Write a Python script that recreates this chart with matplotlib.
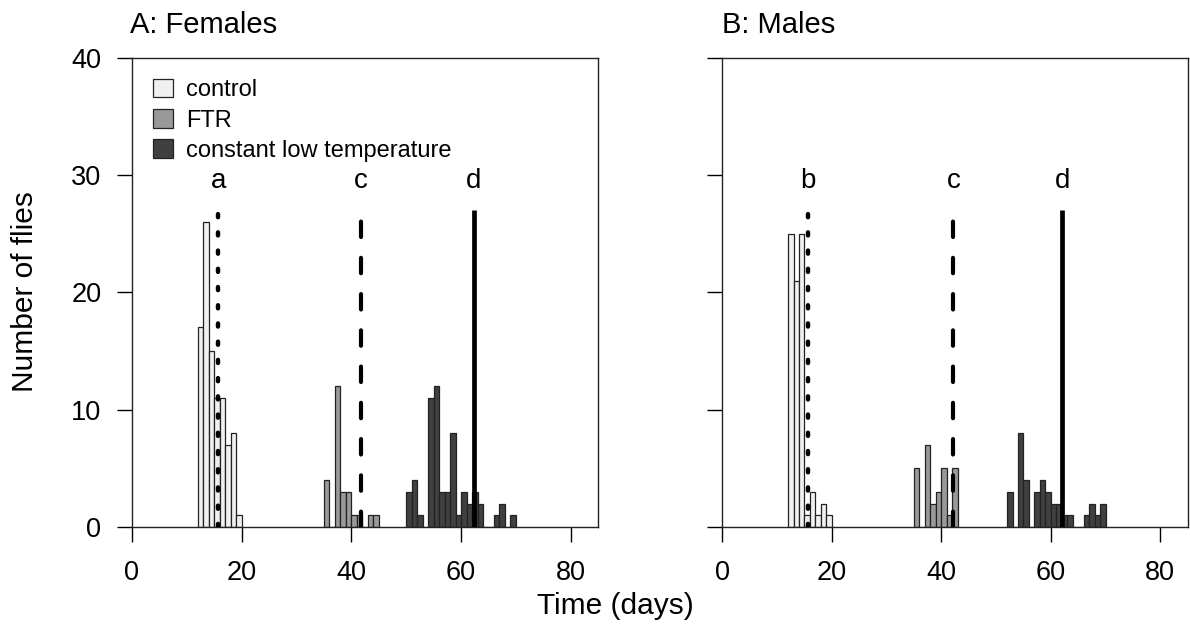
import matplotlib
matplotlib.use("Agg")
from matplotlib import pyplot as plt
from matplotlib.patches import Patch

plt.rcParams['font.family'] = ['Liberation Sans', 'DejaVu Sans']

# histogram bins (left edge, day) and counts
fem_ctrl_days = [12, 13, 14, 15, 16, 17, 18, 19]
fem_ctrl_n = [17, 26, 15, 11, 11, 7, 8, 1]
fem_ftr_days = [35, 36, 37, 38, 39, 40, 41, 42, 43, 44]
fem_ftr_n = [4, 0, 12, 3, 3, 1, 1, 0, 1, 1]
fem_low_days = [50, 51, 52, 53, 54, 55, 56, 57, 58, 59, 60, 61, 62, 63, 64, 65, 66, 67, 68, 69]
fem_low_n = [3, 4, 1, 0, 11, 12, 3, 3, 8, 1, 3, 2, 3, 2, 0, 0, 1, 2, 0, 1]

male_ctrl_days = [12, 13, 14, 15, 16, 17, 18, 19]
male_ctrl_n = [25, 21, 25, 1, 3, 1, 2, 1]
male_ftr_days = [35, 36, 37, 38, 39, 40, 41, 42]
male_ftr_n = [5, 0, 7, 2, 3, 5, 1, 5]
male_low_days = [52, 53, 54, 55, 56, 57, 58, 59, 60, 61, 62, 63, 64, 65, 66, 67, 68, 69]
male_low_n = [3, 0, 8, 4, 0, 3, 4, 3, 2, 2, 1, 1, 0, 0, 1, 2, 1, 2]

# mean lines and significance letters
fem_means = [15.7, 41.8, 62.3]
fem_letters = ['a', 'c', 'd']
male_means = [15.7, 42.2, 62.1]
male_letters = ['b', 'c', 'd']
line_top = 27
letter_y = 29.5

labels = ['control', 'FTR', 'constant low temperature']
colors = ['#f0f0f0', '#999999', '#404040']

fig = plt.figure(figsize=(11.9, 6.28), dpi=100)
ax1 = fig.add_axes([0.1109, 0.1608, 0.3918, 0.7476])
ax2 = fig.add_axes([0.607, 0.1608, 0.3911, 0.7476])


def draw_panel(ax, groups, means, letters, ylabels=True):
    for (days, n), c in zip(groups, colors):
        ax.bar(days, n, width=1, align='edge', color=c, edgecolor='#222222', linewidth=0.9, zorder=2)
    # dotted, dashed, solid lines
    ax.plot([means[0], means[0]], [0, line_top], color='black', lw=3.2,
            dashes=(0.7, 3.4), dash_capstyle='round', zorder=3)
    ax.plot([means[1], means[1]], [0, line_top], color='black', lw=3.0,
            dashes=(3.7, 5.0), dash_capstyle='round', zorder=3)
    ax.plot([means[2], means[2]], [0, line_top], color='black', lw=3.4,
            solid_capstyle='butt', zorder=3)
    for m, l in zip(means, letters):
        ax.text(m, letter_y, l, ha='center', va='center', fontsize=20)
    ax.set_xlim(0, 85)
    ax.set_ylim(0, 40)
    ax.set_xticks([0, 20, 40, 60, 80])
    ax.set_yticks([0, 10, 20, 30, 40])
    ax.tick_params(direction='out', length=11, width=1, labelsize=19.5)
    ax.tick_params(axis='x', pad=13)
    ax.tick_params(axis='y', pad=11)
    if not ylabels:
        ax.set_yticklabels([])
    for s in ax.spines.values():
        s.set_linewidth(1.0)
        s.set_color('#222222')


draw_panel(ax1, [(fem_ctrl_days, fem_ctrl_n), (fem_ftr_days, fem_ftr_n), (fem_low_days, fem_low_n)],
           fem_means, fem_letters)
draw_panel(ax2, [(male_ctrl_days, male_ctrl_n), (male_ftr_days, male_ftr_n), (male_low_days, male_low_n)],
           male_means, male_letters, ylabels=False)

handles = [Patch(facecolor=c, edgecolor='#222222', linewidth=0.9) for c in colors]
ax1.legend(handles, labels, loc='upper left', bbox_to_anchor=(0.046, 0.955), frameon=False,
           fontsize=17, handlelength=0.85, handleheight=0.85, handletextpad=0.55,
           labelspacing=0.33, borderaxespad=0, borderpad=0)

fig.text(130 / 1190, 0.960, 'A: Females', fontsize=21, ha='left', va='center')
fig.text(722 / 1190, 0.960, 'B: Males', fontsize=21, ha='left', va='center')
fig.text(0.021, 0.535, 'Number of flies', fontsize=21.5, rotation=90, ha='center', va='center')
fig.text(0.517, 0.035, 'Time (days)', fontsize=21.5, ha='center', va='center')

fig.savefig('out.png', dpi=100)
